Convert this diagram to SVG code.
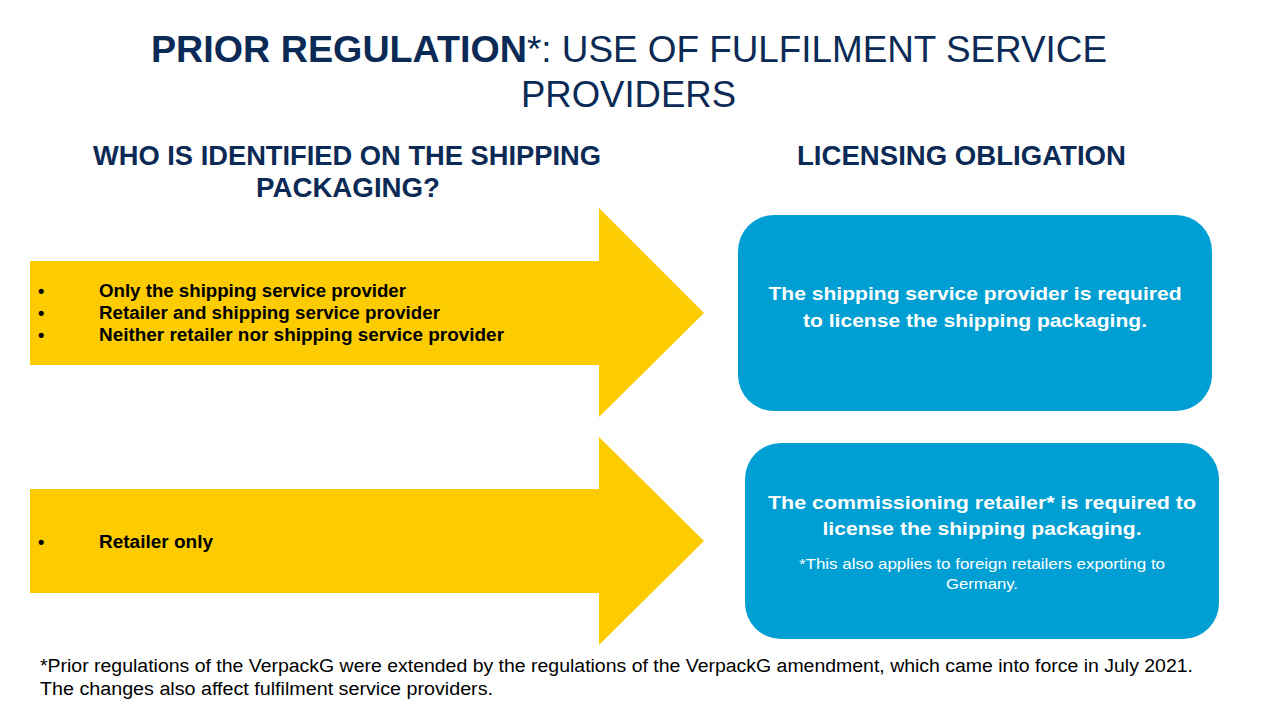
<svg xmlns="http://www.w3.org/2000/svg" width="1280" height="720" viewBox="0 0 1280 720">
<style>
.navy{fill:#0b2a55;font-family:"Liberation Sans",Arial,sans-serif}
.b{font-weight:bold}
.arrow{fill:#fccc00}
.box{fill:#009fd3}
.blk{fill:#000;font-family:"Liberation Sans",Arial,sans-serif;font-weight:bold;font-size:18px}
.wt{fill:#fff;font-family:"Liberation Sans",Arial,sans-serif;text-anchor:middle}
.ft{fill:#000;font-family:"Liberation Sans",Arial,sans-serif;font-size:18px}
</style>
<rect width="1280" height="720" fill="#fff"/>
<g id="title">
<text class="navy" x="151" y="62" font-size="37"><tspan class="b" font-weight="bold" textLength="376" lengthAdjust="spacingAndGlyphs">PRIOR REGULATION</tspan><tspan textLength="580" lengthAdjust="spacingAndGlyphs">*: USE OF FULFILMENT SERVICE</tspan></text>
<text class="navy" x="521" y="107" font-size="37" textLength="215" lengthAdjust="spacingAndGlyphs">PROVIDERS</text>
</g>
<g id="header-left">
<text class="navy" font-weight="bold" x="93" y="165" font-size="27" textLength="508" lengthAdjust="spacingAndGlyphs">WHO IS IDENTIFIED ON THE SHIPPING</text>
<text class="navy" font-weight="bold" x="256" y="197" font-size="27" textLength="184" lengthAdjust="spacingAndGlyphs">PACKAGING?</text>
</g>
<g id="header-right">
<text class="navy" font-weight="bold" x="797" y="165" font-size="27" textLength="329" lengthAdjust="spacingAndGlyphs">LICENSING OBLIGATION</text>
</g>
<g id="connectors">
<g id="arrow1">
<polygon class="arrow" points="30,261 599,261 599,208 704,313 599,417 599,365 30,365"/>
<text class="blk" x="38" y="297">•</text>
<text class="blk" x="38" y="319">•</text>
<text class="blk" x="38" y="341">•</text>
<text class="blk" x="99" y="297" textLength="307" lengthAdjust="spacingAndGlyphs">Only the shipping service provider</text>
<text class="blk" x="99" y="319" textLength="341" lengthAdjust="spacingAndGlyphs">Retailer and shipping service provider</text>
<text class="blk" x="99" y="341" textLength="405" lengthAdjust="spacingAndGlyphs">Neither retailer nor shipping service provider</text>
</g>
<g id="arrow2">
<polygon class="arrow" points="30,489 599,489 599,437 704,541 599,645 599,593 30,593"/>
<text class="blk" x="38" y="548">•</text>
<text class="blk" x="99" y="548" textLength="114" lengthAdjust="spacingAndGlyphs">Retailer only</text>
</g>
</g>
<g id="box1">
<rect class="box" x="738" y="215" width="474" height="196" rx="36"/>
<text class="wt" font-weight="bold" font-size="19" x="975" y="300" textLength="413" lengthAdjust="spacingAndGlyphs">The shipping service provider is required</text>
<text class="wt" font-weight="bold" font-size="19" x="975" y="327" textLength="344" lengthAdjust="spacingAndGlyphs">to license the shipping packaging.</text>
</g>
<g id="box2">
<rect class="box" x="745" y="443" width="474" height="196" rx="36"/>
<text class="wt" font-weight="bold" font-size="19" x="982" y="509" textLength="428" lengthAdjust="spacingAndGlyphs">The commissioning retailer* is required to</text>
<text class="wt" font-weight="bold" font-size="19" x="982" y="535" textLength="319" lengthAdjust="spacingAndGlyphs">license the shipping packaging.</text>
<text class="wt" font-size="15" x="982" y="569" textLength="366" lengthAdjust="spacingAndGlyphs">*This also applies to foreign retailers exporting to</text>
<text class="wt" font-size="15" x="982" y="589" textLength="72" lengthAdjust="spacingAndGlyphs">Germany.</text>
</g>
<g id="footnote">
<text class="ft" x="40" y="672" textLength="1153" lengthAdjust="spacingAndGlyphs">*Prior regulations of the VerpackG were extended by the regulations of the VerpackG amendment, which came into force in July 2021.</text>
<text class="ft" x="40" y="695" textLength="453" lengthAdjust="spacingAndGlyphs">The changes also affect fulfilment service providers.</text>
</g>
</svg>
